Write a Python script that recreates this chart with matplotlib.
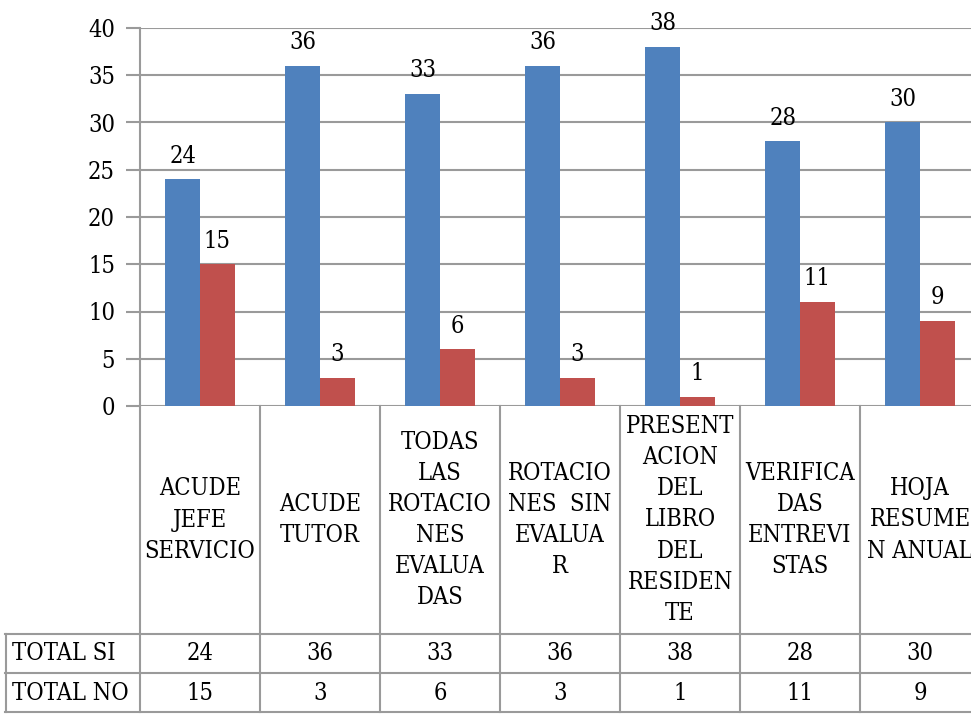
import matplotlib
matplotlib.use("Agg")
import matplotlib.pyplot as plt
from matplotlib.transforms import blended_transform_factory
import numpy as np

# data
categories = ["ACUDE\nJEFE\nSERVICIO", "ACUDE\nTUTOR",
              "TODAS\nLAS\nROTACIO\nNES\nEVALUA\nDAS", "ROTACIO\nNES  SIN\nEVALUA\nR",
              "PRESENT\nACION\nDEL\nLIBRO\nDEL\nRESIDEN\nTE", "VERIFICA\nDAS\nENTREVI\nSTAS",
              "HOJA\nRESUME\nN ANUAL"]
total_si = [24, 36, 33, 36, 38, 28, 30]
total_no = [15, 3, 6, 3, 1, 11, 9]
row_labels = ["TOTAL SI", "TOTAL NO"]
yticks = [0, 5, 10, 15, 20, 25, 30, 35, 40]

plt.rcParams["font.family"] = ["DejaVu Serif"]
plt.rcParams["font.stretch"] = "condensed"
plt.rcParams["font.size"] = 17

W, H = 971, 714
GRAY = "#9a9a9a"
fig = plt.figure(figsize=(W / 100, H / 100), dpi=100)
ax = fig.add_axes([140 / W, 1 - 406 / H, 840 / W, 378 / H])

x = np.arange(len(categories))
w = 0.29
ax.bar(x - w / 2, total_si, w, color="#4F81BD", zorder=3)
ax.bar(x + w / 2, total_no, w, color="#C0504D", zorder=3)

for xi, v in zip(x - w / 2, total_si):
    ax.annotate(str(v), (xi, v), xytext=(0, 12), textcoords="offset points",
                ha="center", va="baseline")
for xi, v in zip(x + w / 2, total_no):
    ax.annotate(str(v), (xi, v), xytext=(0, 12), textcoords="offset points",
                ha="center", va="baseline")

ax.set_xlim(-0.5, len(categories) - 0.5)
ax.set_ylim(0, 40)
ax.set_yticks(yticks)
ax.set_xticks([])
ax.yaxis.grid(True, color=GRAY, lw=1.5, zorder=0)
ax.tick_params(axis="y", length=10, width=1.5, color=GRAY, pad=8)
for s in ["top", "right", "bottom"]:
    ax.spines[s].set_visible(False)
ax.spines["left"].set_color(GRAY)
ax.spines["left"].set_linewidth(1.5)

# data table below the axis
def fy(py):
    return 1 - py / H

tr = blended_transform_factory(ax.transData, fig.transFigure)
for i in range(len(categories) + 1):
    fig.add_artist(plt.Line2D([i - 0.5, i - 0.5], [fy(406), fy(712)], transform=tr,
                              color=GRAY, lw=1.5))
for py in [634, 673, 712]:
    fig.add_artist(plt.Line2D([5 / W, 1], [fy(py), fy(py)], transform=fig.transFigure,
                              color=GRAY, lw=1.5))
fig.add_artist(plt.Line2D([6 / W, 6 / W], [fy(634), fy(712)], transform=fig.transFigure,
                          color=GRAY, lw=1.5))

for i, lab in enumerate(categories):
    fig.text(i, fy(520), lab, transform=tr, ha="center", va="center",
             multialignment="center", linespacing=1.45)

for r, (lab, vals) in enumerate(zip(row_labels, [total_si, total_no])):
    yc = fy(654 + 39 * r)
    fig.text(12 / W, yc, lab, ha="left", va="center")
    for i, v in enumerate(vals):
        fig.text(i, yc, str(v), transform=tr, ha="center", va="center")

fig.savefig("out.png", dpi=100)
